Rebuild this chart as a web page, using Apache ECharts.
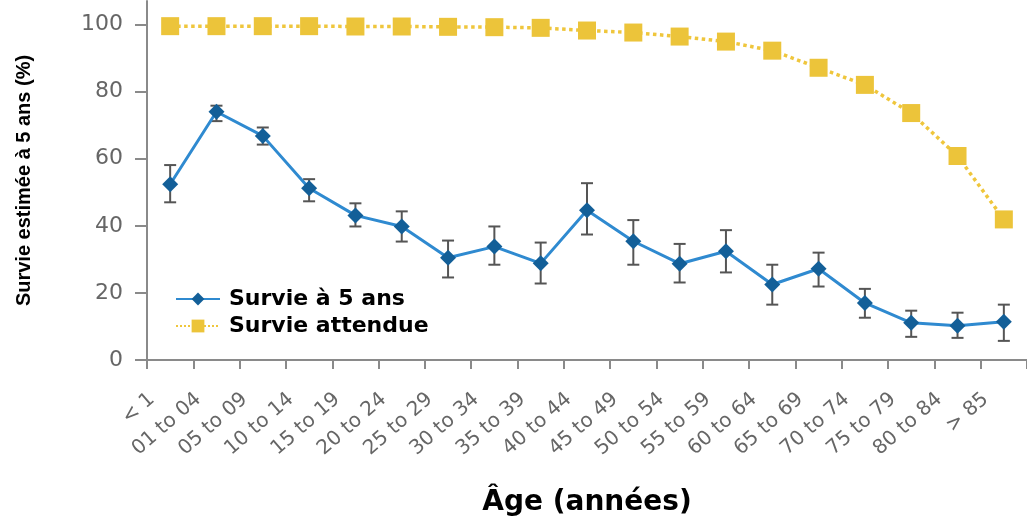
<!DOCTYPE html>
<html>
<head>
<meta charset="utf-8">
<script src="https://cdn.jsdelivr.net/npm/echarts@6/dist/echarts.min.js"></script>
<style>
  html, body { margin: 0; padding: 0; background: #fff; }
  #chart { width: 1027px; height: 519px; }
</style>
</head>
<body>
<div id="chart"></div>
<script>
// Age groups (x axis)
const categories = ['< 1', '01 to 04', '05 to 09', '10 to 14', '15 to 19', '20 to 24', '25 to 29',
  '30 to 34', '35 to 39', '40 to 44', '45 to 49', '50 to 54', '55 to 59', '60 to 64',
  '65 to 69', '70 to 74', '75 to 79', '80 to 84', '> 85'];

// Observed 5-year survival (%) with its confidence bounds
const survie5 = [52.4, 74.0, 66.8, 51.2, 43.1, 39.8, 30.5, 33.8, 28.8, 44.6, 35.4, 28.7, 32.4, 22.5, 27.2, 17.0, 11.1, 10.2, 11.4];
const errHigh = [58.1, 75.8, 69.3, 53.9, 46.7, 44.3, 35.6, 39.8, 35.0, 52.7, 41.7, 34.6, 38.7, 28.4, 32.0, 21.2, 14.7, 14.1, 16.5];
const errLow  = [47.0, 71.2, 64.2, 47.3, 39.8, 35.3, 24.6, 28.4, 22.8, 37.4, 28.4, 23.1, 26.1, 16.5, 21.9, 12.6, 6.9, 6.6, 5.7];

// Expected survival (%) of the general population
const attendue = [99.5, 99.5, 99.5, 99.5, 99.4, 99.4, 99.3, 99.2, 99.0, 98.2, 97.6, 96.4, 94.9, 92.2, 87.1, 82.0, 73.6, 60.8, 41.9];

// Y axis tick values
const yTicks = [0, 20, 40, 60, 80, 100];

const names = { obs: 'Survie à 5 ans', exp: 'Survie attendue' };

const axisGrey = '#8a8a8a';
const labelGrey = '#666';

const chart = echarts.init(document.getElementById('chart'), null, { renderer: 'canvas' });

chart.setOption({
  backgroundColor: '#fff',
  animation: false,
  grid: { left: 147, right: 0, top: 1, bottom: 159, outerBoundsMode: 'none' },
  legend: {
    data: [names.obs, names.exp],
    orient: 'vertical',
    left: 170,
    top: 283,
    itemGap: 5,
    itemWidth: 44,
    itemHeight: 16,
    textStyle: {
      fontFamily: 'DejaVu Sans',
      fontWeight: 'bold',
      fontSize: 22,
      color: '#000',
      padding: [0, 0, 0, 4]
    }
  },
  xAxis: {
    type: 'category',
    data: categories,
    name: 'Âge (années)',
    nameLocation: 'middle',
    nameGap: 129,
    nameTextStyle: { fontFamily: 'DejaVu Sans', fontWeight: 'bold', fontSize: 28, color: '#000' },
    axisLine: { lineStyle: { color: axisGrey, width: 2 } },
    axisTick: { show: true, length: 9, lineStyle: { color: axisGrey, width: 2 } },
    axisLabel: {
      interval: 0,
      rotate: 41,
      margin: 21,
      padding: [0, 24, 0, 0],
      fontFamily: 'DejaVu Sans',
      fontSize: 20,
      color: labelGrey
    },
    splitLine: { show: false }
  },
  yAxis: {
    type: 'value',
    min: 0,
    max: 107,
    name: 'Survie estimée à 5 ans (%)',
    nameLocation: 'middle',
    nameRotate: 90,
    nameGap: 113,
    nameTextStyle: { fontFamily: 'Liberation Sans', fontWeight: 'bold', fontSize: 20, color: '#000' },
    axisLine: { show: true, lineStyle: { color: axisGrey, width: 2 } },
    axisTick: { show: true, length: 12, customValues: yTicks, lineStyle: { color: axisGrey, width: 2 } },
    axisLabel: {
      customValues: yTicks,
      margin: 24,
      fontFamily: 'DejaVu Sans',
      fontSize: 22,
      color: labelGrey
    },
    splitLine: { show: false }
  },
  series: [
    {
      name: 'errorbars',
      type: 'custom',
      z: 1,
      silent: true,
      data: categories.map((c, i) => [i, errLow[i], errHigh[i]]),
      renderItem: function (params, api) {
        const i = api.value(0);
        const lo = api.coord([i, api.value(1)]);
        const hi = api.coord([i, api.value(2)]);
        const half = 6;
        const style = { stroke: '#555', lineWidth: 2 };
        return {
          type: 'group',
          children: [
            { type: 'line', shape: { x1: lo[0], y1: lo[1], x2: hi[0], y2: hi[1] }, style: style },
            { type: 'line', shape: { x1: lo[0] - half, y1: lo[1], x2: lo[0] + half, y2: lo[1] }, style: style },
            { type: 'line', shape: { x1: hi[0] - half, y1: hi[1], x2: hi[0] + half, y2: hi[1] }, style: style }
          ]
        };
      }
    },
    {
      name: names.obs,
      type: 'line',
      z: 3,
      data: survie5,
      symbol: 'diamond',
      symbolSize: 16,
      lineStyle: { color: '#2f8ad0', width: 3 },
      itemStyle: { color: '#135f98' }
    },
    {
      name: names.exp,
      type: 'line',
      z: 2,
      data: attendue,
      symbol: 'rect',
      symbolSize: 18,
      lineStyle: { color: '#efc63c', width: 3.5, type: 'dotted' },
      itemStyle: { color: '#ecc43a' }
    }
  ]
});
</script>
</body>
</html>
